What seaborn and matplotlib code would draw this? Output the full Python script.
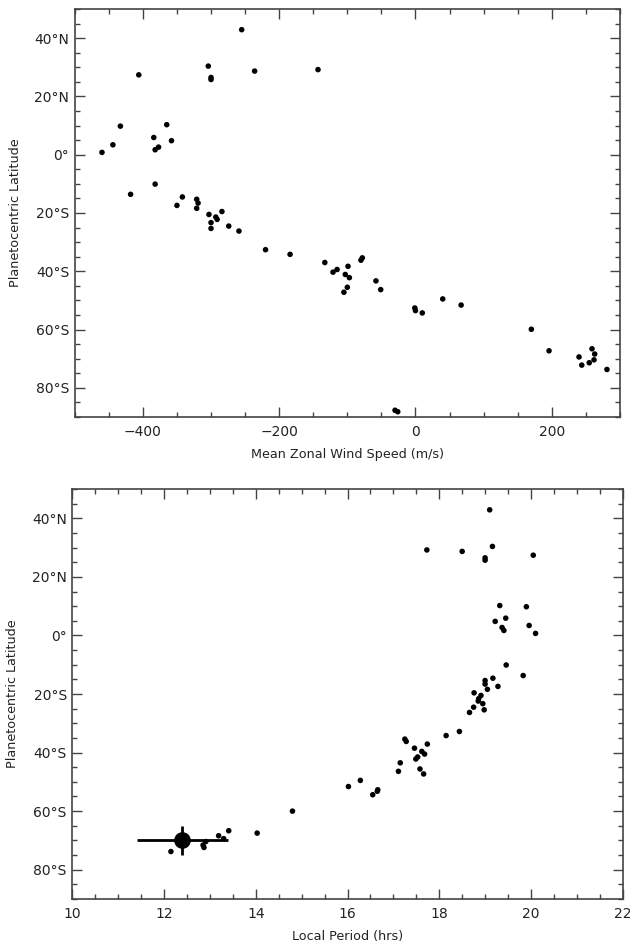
import matplotlib
matplotlib.use("Agg")
import matplotlib.pyplot as plt
from matplotlib.ticker import MultipleLocator, FuncFormatter
import seaborn as sns
import pandas as pd

# ---- Data: top panel (mean zonal wind speed vs latitude) ----
wind_speed = [-255, -304, -300, -300, -236, -143, -406, -433, -444, -460,
              -365, -384, -358, -382, -377, -382, -418, -342, -350, -321,
              -319, -321, -303, -284, -293, -291, -300, -300, -274, -259,
              -220, -184, -133, -121, -115, -99, -103, -97, -100, -105,
              -80, -78, -58, -51, -1, 0, 10, 40, 67, 170,
              196, 240, 244, 259, 263, 262, 255, 281, -30, -26]
wind_lat = [42.9, 30.4, 26.5, 25.8, 28.7, 29.2, 27.4, 9.8, 3.4, 0.8,
            10.3, 5.9, 4.8, 1.7, 2.6, -10.1, -13.6, -14.5, -17.4, -15.3,
            -16.6, -18.4, -20.5, -19.5, -21.4, -22.2, -23.3, -25.3, -24.5, -26.2,
            -32.6, -34.2, -37.0, -40.3, -39.4, -38.3, -41.1, -42.2, -45.5, -47.2,
            -36.2, -35.4, -43.3, -46.3, -52.6, -53.5, -54.3, -49.5, -51.6, -59.9,
            -67.3, -69.4, -72.2, -66.6, -68.4, -70.4, -71.4, -73.7, -87.7, -88.2]

# ---- Data: bottom panel (local period vs latitude) ----
period_hrs = [19.10, 17.73, 18.50, 19.16, 19.00, 19.00, 20.05, 19.32, 19.90, 19.45,
              19.22, 19.37, 19.41, 19.96, 20.10, 19.46, 19.83, 19.17, 19.00, 19.00,
              19.05, 19.28, 18.76, 18.91, 18.86, 18.85, 18.95, 18.75, 18.98, 18.66,
              18.44, 18.15, 17.25, 17.28, 17.74, 17.46, 17.62, 17.68, 17.53, 17.49,
              17.15, 17.11, 17.58, 17.66, 16.02, 16.28, 16.55, 16.65, 16.66, 14.80,
              14.03, 13.41, 13.19, 13.30, 12.91, 12.85, 12.87, 12.15]
period_lat = [42.9, 29.2, 28.7, 30.4, 26.5, 25.7, 27.4, 10.2, 9.8, 5.9,
              4.8, 2.7, 1.7, 3.4, 0.7, -10.1, -13.7, -14.6, -15.4, -16.6,
              -18.4, -17.4, -19.6, -20.5, -21.6, -22.4, -23.3, -24.5, -25.4, -26.3,
              -32.8, -34.2, -35.4, -36.2, -37.1, -38.5, -39.6, -40.5, -41.5, -42.2,
              -43.5, -46.4, -45.6, -47.3, -51.6, -49.5, -54.4, -53.2, -52.7, -60.0,
              -67.5, -66.7, -68.4, -69.4, -70.4, -71.6, -72.4, -73.8]

# Special point with error bars
special_period = [12.4]
special_lat = [-70.0]
special_period_err = [1.0]
special_lat_err = [5.0]

lat_ticks = [40, 20, 0, -20, -40, -60, -80]


def lat_fmt(v, pos):
    v = int(round(v))
    if v > 0:
        return f"{v}°N"
    if v < 0:
        return f"{-v}°S"
    return "0°"


sns.set_style("ticks")
plt.rcParams['font.family'] = ['DejaVu Sans']
plt.rcParams['axes.edgecolor'] = '#444444'
plt.rcParams['xtick.color'] = '#444444'
plt.rcParams['ytick.color'] = '#444444'
plt.rcParams['xtick.labelcolor'] = '#222222'
plt.rcParams['ytick.labelcolor'] = '#222222'
plt.rcParams['axes.labelcolor'] = '#222222'

fig = plt.figure(figsize=(6.3, 9.47), dpi=100)
ax1 = fig.add_axes([0.1186, 0.5597, 0.984 - 0.1186, 0.9905 - 0.5597])
ax2 = fig.add_axes([0.1148, 0.0507, 0.9884 - 0.1148, 0.4836 - 0.0507])

df1 = pd.DataFrame({"wind": wind_speed, "lat": wind_lat})
df2 = pd.DataFrame({"period": period_hrs, "lat": period_lat})

sns.scatterplot(data=df1, x="wind", y="lat", ax=ax1, color="black",
                s=16, edgecolor="none", linewidth=0)
sns.scatterplot(data=df2, x="period", y="lat", ax=ax2, color="black",
                s=16, edgecolor="none", linewidth=0)
ax2.errorbar(special_period, special_lat, xerr=special_period_err,
             yerr=special_lat_err, fmt="o", color="black", markersize=11,
             elinewidth=2, capsize=0, zorder=5)

ax1.set_xlim(-500, 300)
ax1.xaxis.set_minor_locator(MultipleLocator(50))
ax1.set_xticks([-400, -200, 0, 200])
ax1.set_xticklabels(["\u2212400", "\u2212200", "0", "200"])
ax1.set_xlabel("Mean Zonal Wind Speed (m/s)", fontsize=9.2, labelpad=6)

ax2.set_xlim(10, 22)
ax2.xaxis.set_major_locator(MultipleLocator(2))
ax2.xaxis.set_minor_locator(MultipleLocator(0.5))
ax2.set_xlabel("Local Period (hrs)", fontsize=9.2, labelpad=6)

for ax in (ax1, ax2):
    ax.set_ylim(-90, 50)
    ax.set_yticks(lat_ticks)
    ax.yaxis.set_minor_locator(MultipleLocator(5))
    ax.yaxis.set_major_formatter(FuncFormatter(lat_fmt))
    ax.set_ylabel("Planetocentric Latitude", fontsize=9.2, labelpad=9)
    ax.tick_params(which="both", direction="in", top=True, right=True,
                   labelsize=10, width=1.0)
    ax.tick_params(axis="x", which="major", length=7, pad=6)
    ax.tick_params(axis="y", which="major", length=7, pad=4)
    ax.tick_params(which="minor", length=3.5)
    for sp in ax.spines.values():
        sp.set_linewidth(1.2)
        sp.set_visible(True)

fig.savefig("out.png", dpi=100)
